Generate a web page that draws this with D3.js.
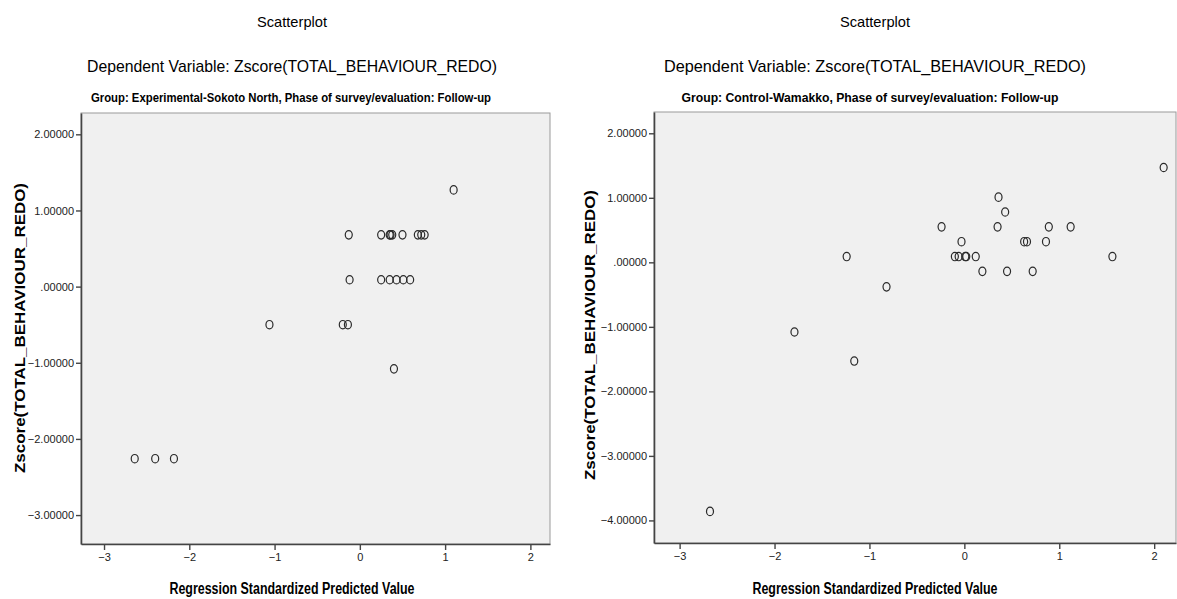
<!DOCTYPE html>
<html>
<head>
<meta charset="utf-8">
<script src="https://cdn.jsdelivr.net/npm/d3@7"></script>
<style>
body { margin: 0; background: #fff; }
.tick text { font-family: "Liberation Sans Narrow", "Arial Narrow", sans-serif; font-size: 11px; fill: #222; }
.tick line, .domain { stroke: #444; }
</style>
</head>
<body>
<script>
var leftPredicted = [1.10, -0.13, 0.25, 0.35, 0.36, 0.38, 0.50, 0.68, 0.72, 0.76,
                     -0.12, 0.25, 0.35, 0.43, 0.51, 0.59, -0.20, -0.14, -1.06, 0.40,
                     -2.64, -2.40, -2.18];
var leftZscore = [1.27, 0.68, 0.68, 0.68, 0.68, 0.68, 0.68, 0.68, 0.68, 0.68,
                  0.09, 0.09, 0.09, 0.09, 0.09, 0.09, -0.50, -0.50, -0.50, -1.08,
                  -2.26, -2.26, -2.26];

var rightPredicted = [2.10, 0.36, 0.43, -0.24, 0.35, 0.89, 1.12, -0.03, 0.63, 0.66, 0.86,
                      -1.24, -0.10, -0.06, 0.01, 0.02, 0.12, 1.56, 0.19, 0.45, 0.72,
                      -0.82, -1.79, -1.16, -2.68];
var rightZscore = [1.47, 1.01, 0.78, 0.55, 0.55, 0.55, 0.55, 0.32, 0.32, 0.32, 0.32,
                   0.09, 0.09, 0.09, 0.09, 0.09, 0.09, 0.09, -0.14, -0.14, -0.14,
                   -0.38, -1.08, -1.53, -3.86];

var xTicks = [-3, -2, -1, 0, 1, 2];
var leftYTicks = [2, 1, 0, -1, -2, -3];
var rightYTicks = [2, 1, 0, -1, -2, -3, -4];

var mainTitle = "Scatterplot";
var depTitle = "Dependent Variable: Zscore(TOTAL_BEHAVIOUR_REDO)";
var groupTitles = ["Group: Experimental-Sokoto North, Phase of survey/evaluation: Follow-up",
                   "Group: Control-Wamakko, Phase of survey/evaluation: Follow-up"];
var xLabel = "Regression Standardized Predicted Value";
var yLabel = "Zscore(TOTAL_BEHAVIOUR_REDO)";

var svg = d3.select("body")
            .append("svg")
            .attr("width", 1177)
            .attr("height", 599);

var fmt = function(d) {
  var s = d3.format(".5f")(d);
  return s.replace(/^0\./, ".");
};

function drawPanel(p) {
  var x = d3.scaleLinear().domain(p.xDomain).range([p.left, p.right]);
  var y = d3.scaleLinear().domain(p.yDomain).range([p.bottom, p.top]);

  svg.append("rect")
     .attr("x", p.left)
     .attr("y", p.top)
     .attr("width", p.right - p.left)
     .attr("height", p.bottom - p.top)
     .attr("fill", "#f0f0f0")
     .attr("stroke", "#9a9a9a")
     .attr("stroke-width", 1);

  svg.append("g")
     .attr("transform", "translate(" + p.left + ",0)")
     .call(d3.axisLeft(y).tickValues(p.yTicks).tickFormat(fmt)
             .tickSizeInner(5).tickSizeOuter(0).tickPadding(2))
     .call(function(g) {
       g.select(".domain").attr("stroke-width", 1.6);
       g.selectAll(".tick line").attr("stroke-width", 1.4);
     });

  svg.append("g")
     .attr("transform", "translate(0," + p.bottom + ")")
     .call(d3.axisBottom(x).tickValues(xTicks).tickFormat(d3.format("d"))
             .tickSizeInner(6).tickSizeOuter(0).tickPadding(3))
     .call(function(g) {
       g.select(".domain").attr("stroke-width", 1.6);
       g.selectAll(".tick line").attr("stroke-width", 1.4);
     });

  svg.append("g")
     .selectAll("ellipse")
     .data(p.xs)
     .enter()
     .append("ellipse")
     .attr("cx", function(d) { return x(d); })
     .attr("cy", function(d, i) { return y(p.ys[i]); })
     .attr("rx", 3.5)
     .attr("ry", 4.2)
     .attr("fill", "none")
     .attr("stroke", "#2a2a2a")
     .attr("stroke-width", 1.2);

  svg.append("text")
     .attr("x", p.cx)
     .attr("y", 27)
     .attr("text-anchor", "middle")
     .style("font-family", "Liberation Sans, Arial, sans-serif")
     .style("font-size", "15px")
     .attr("textLength", 70)
     .attr("lengthAdjust", "spacingAndGlyphs")
     .text(mainTitle);

  svg.append("text")
     .attr("x", p.cx)
     .attr("y", 72)
     .attr("text-anchor", "middle")
     .style("font-family", "Liberation Sans, Arial, sans-serif")
     .style("font-size", "17px")
     .attr("textLength", p.depWidth)
     .attr("lengthAdjust", "spacingAndGlyphs")
     .text(depTitle);

  svg.append("text")
     .attr("x", p.groupCx)
     .attr("y", 102)
     .attr("text-anchor", "middle")
     .style("font-family", "Liberation Sans Narrow, Arial Narrow, sans-serif")
     .style("font-weight", "bold")
     .style("font-size", "13px")
     .attr("textLength", p.groupWidth)
     .attr("lengthAdjust", "spacingAndGlyphs")
     .text(p.group);

  svg.append("text")
     .attr("x", p.cx)
     .attr("y", 594)
     .attr("text-anchor", "middle")
     .style("font-family", "Liberation Sans Narrow, Arial Narrow, sans-serif")
     .style("font-weight", "bold")
     .style("font-size", "16px")
     .attr("textLength", 245)
     .attr("lengthAdjust", "spacingAndGlyphs")
     .text(xLabel);

  svg.append("text")
     .attr("transform", "translate(" + p.yLabelX + "," + p.yLabelCy + ") rotate(-90)")
     .attr("text-anchor", "middle")
     .style("font-family", "Liberation Sans, Arial, sans-serif")
     .style("font-weight", "bold")
     .style("font-size", "14px")
     .attr("textLength", 290)
     .attr("lengthAdjust", "spacingAndGlyphs")
     .text(yLabel);
}

drawPanel({
  left: 81, right: 550, top: 113, bottom: 544,
  xDomain: [-3.27, 2.23], yDomain: [-3.38, 2.28],
  yTicks: leftYTicks, xs: leftPredicted, ys: leftZscore,
  cx: 292, groupCx: 291, depWidth: 410, groupWidth: 400,
  group: groupTitles[0], yLabelX: 25, yLabelCy: 328
});

drawPanel({
  left: 654, right: 1176, top: 112, bottom: 543,
  xDomain: [-3.27, 2.23], yDomain: [-4.35, 2.33],
  yTicks: rightYTicks, xs: rightPredicted, ys: rightZscore,
  cx: 875, groupCx: 870, depWidth: 422, groupWidth: 377,
  group: groupTitles[1], yLabelX: 595, yLabelCy: 335
});
</script>
</body>
</html>
